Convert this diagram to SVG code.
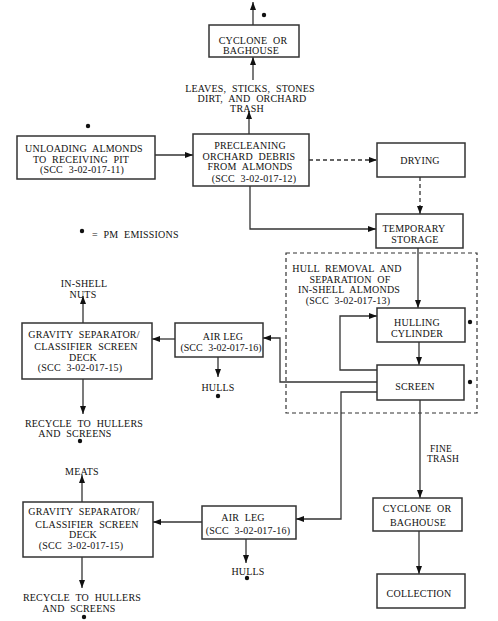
<svg xmlns="http://www.w3.org/2000/svg" width="498" height="621" viewBox="0 0 498 621">
<style>
.box{fill:#fff;stroke:#333;stroke-width:1.5}
.ln{fill:none;stroke:#333;stroke-width:1.3}
.dash{stroke-dasharray:4,3}
text{font-family:"Liberation Serif","Times New Roman",serif;font-size:10px;fill:#111;text-anchor:middle;word-spacing:3px;letter-spacing:0.2px}
.dot{fill:#111}
</style>
<defs>
<marker id="ah" markerUnits="userSpaceOnUse" markerWidth="9" markerHeight="7" refX="8" refY="3" orient="auto">
<path d="M0,0 L8,3 L0,6 z" fill="#111"/>
</marker>
</defs>
<rect width="498" height="621" fill="#fff"/>

<g id="connectors">
<path class="ln" d="M253,25 V2" marker-end="url(#ah)"/>
<path class="ln" d="M253,80 V57" marker-end="url(#ah)"/>
<path class="ln" d="M249,134 V111" marker-end="url(#ah)"/>
<path class="ln" d="M155,155 H193" marker-end="url(#ah)"/>
<path class="ln dash" d="M309,160 H377" marker-end="url(#ah)"/>
<path class="ln dash" d="M420,177 V214" marker-end="url(#ah)"/>
<path class="ln" d="M250,186 V229 H376" marker-end="url(#ah)"/>
<path class="ln" d="M418,248 V308" marker-end="url(#ah)"/>
<path class="ln" d="M419,342 V365" marker-end="url(#ah)"/>
<path class="ln" d="M377,370 H340 V316 H377" marker-end="url(#ah)"/>
<path class="ln" d="M377,382 H280 V338 H263" marker-end="url(#ah)"/>
<path class="ln" d="M175,339 H152" marker-end="url(#ah)"/>
<path class="ln" d="M83,323 V296" marker-end="url(#ah)"/>
<path class="ln" d="M218,357 V377" marker-end="url(#ah)"/>
<path class="ln" d="M83,379 V414" marker-end="url(#ah)"/>
<path class="ln" d="M377,392 H341 V519 H296" marker-end="url(#ah)"/>
<path class="ln" d="M420,400 V498" marker-end="url(#ah)"/>
<path class="ln" d="M419,531 V574" marker-end="url(#ah)"/>
<path class="ln" d="M202,522 H153" marker-end="url(#ah)"/>
<path class="ln" d="M82,502 V475" marker-end="url(#ah)"/>
<path class="ln" d="M246,539 V563" marker-end="url(#ah)"/>
<path class="ln" d="M82,557 V588" marker-end="url(#ah)"/>
</g>

<g id="hull-region">
<rect x="286" y="253" width="191" height="160" fill="none" stroke="#333" stroke-width="1.2" stroke-dasharray="4,3"/>
<text x="347" y="271.5">HULL REMOVAL AND</text>
<text x="350" y="282.5">SEPARATION OF</text>
<text x="349" y="292.5">IN-SHELL ALMONDS</text>
<text x="348" y="303.5">(SCC 3-02-017-13)</text>
</g>

<g id="cyclone-top">
<rect class="box" x="209" y="25" width="90" height="32"/>
<text x="253" y="43.5">CYCLONE OR</text>
<text x="251" y="53.5">BAGHOUSE</text>
</g>

<g id="debris-label">
<text x="250" y="91.5">LEAVES, STICKS, STONES</text>
<text x="252" y="101.5">DIRT, AND ORCHARD</text>
<text x="247" y="111.5">TRASH</text>
</g>

<g id="unloading">
<rect class="box" x="17" y="136" width="138" height="43"/>
<text x="84" y="151.5">UNLOADING ALMONDS</text>
<text x="81" y="162.5">TO RECEIVING PIT</text>
<text x="82" y="172.5">(SCC 3-02-017-11)</text>
</g>

<g id="precleaning">
<rect class="box" x="193" y="134" width="116" height="52"/>
<text x="250" y="148.5">PRECLEANING</text>
<text x="249" y="159.5">ORCHARD DEBRIS</text>
<text x="250" y="169.5">FROM ALMONDS</text>
<text x="254" y="181.5">(SCC 3-02-017-12)</text>
</g>

<g id="drying">
<rect class="box" x="377" y="143" width="88" height="34"/>
<text x="420" y="163.5">DRYING</text>
</g>

<g id="temporary-storage">
<rect class="box" x="376" y="214" width="87" height="34"/>
<text x="414" y="231.5">TEMPORARY</text>
<text x="415" y="242.5">STORAGE</text>
</g>

<g id="legend">
<circle class="dot" cx="82" cy="231" r="2.2"/>
<text x="92" y="238" style="text-anchor:start">= PM EMISSIONS</text>
</g>

<g id="hulling-cylinder">
<rect class="box" x="377" y="308" width="88" height="34"/>
<text x="417" y="325.5">HULLING</text>
<text x="417" y="336.5">CYLINDER</text>
</g>

<g id="screen">
<rect class="box" x="377" y="365" width="87" height="35"/>
<text x="415" y="389.5">SCREEN</text>
</g>

<g id="air-leg-1">
<rect class="box" x="175" y="323" width="88" height="34"/>
<text x="223" y="339.5" style="word-spacing:0">AIR LEG</text>
<text x="221" y="350.5" style="letter-spacing:0">(SCC 3-02-017-16)</text>
</g>

<g id="gravity-1">
<rect class="box" x="22" y="323" width="130" height="56"/>
<text x="84" y="337.5">GRAVITY SEPARATOR/</text>
<text x="86" y="349.5">CLASSIFIER SCREEN</text>
<text x="83" y="360.5">DECK</text>
<text x="80" y="370.5">(SCC 3-02-017-15)</text>
</g>

<g id="in-shell-nuts">
<text x="84" y="286.5">IN-SHELL</text>
<text x="83" y="297.5">NUTS</text>
</g>

<g id="hulls-1">
<text x="218" y="390.5">HULLS</text>
</g>

<g id="recycle-1">
<text x="84" y="426.5">RECYCLE TO HULLERS</text>
<text x="75" y="436.5">AND SCREENS</text>
</g>

<g id="fine-trash">
<text x="441" y="451.5" style="font-size:9.5px">FINE</text>
<text x="443" y="461.5" style="font-size:9.5px">TRASH</text>
</g>

<g id="cyclone-2">
<rect class="box" x="373" y="498" width="89" height="33"/>
<text x="417" y="511.5">CYCLONE OR</text>
<text x="418" y="525.5">BAGHOUSE</text>
</g>

<g id="collection">
<rect class="box" x="377" y="574" width="88" height="34"/>
<text x="419" y="596.5">COLLECTION</text>
</g>

<g id="air-leg-2">
<rect class="box" x="202" y="506" width="94" height="33"/>
<text x="243" y="520.5">AIR LEG</text>
<text x="248" y="533.5">(SCC 3-02-017-16)</text>
</g>

<g id="gravity-2">
<rect class="box" x="23" y="502" width="130" height="55"/>
<text x="84" y="514.5">GRAVITY SEPARATOR/</text>
<text x="87" y="527.5">CLASSIFIER SCREEN</text>
<text x="83" y="537.5">DECK</text>
<text x="81" y="548.5">(SCC 3-02-017-15)</text>
</g>

<g id="meats">
<text x="82" y="474.5">MEATS</text>
</g>

<g id="hulls-2">
<text x="248" y="574.5">HULLS</text>
</g>

<g id="recycle-2">
<text x="82" y="600.5">RECYCLE TO HULLERS</text>
<text x="79" y="611.5">AND SCREENS</text>
</g>

<g id="emission-dots">
<circle class="dot" cx="264" cy="15" r="2.2"/>
<circle class="dot" cx="88" cy="126" r="2.2"/>
<circle class="dot" cx="470" cy="322" r="2.2"/>
<circle class="dot" cx="470" cy="382" r="2.2"/>
<circle class="dot" cx="218" cy="396" r="2.2"/>
<circle class="dot" cx="80" cy="441" r="2.2"/>
<circle class="dot" cx="247" cy="578" r="2.2"/>
<circle class="dot" cx="84" cy="617" r="2.2"/>
</g>
</svg>
